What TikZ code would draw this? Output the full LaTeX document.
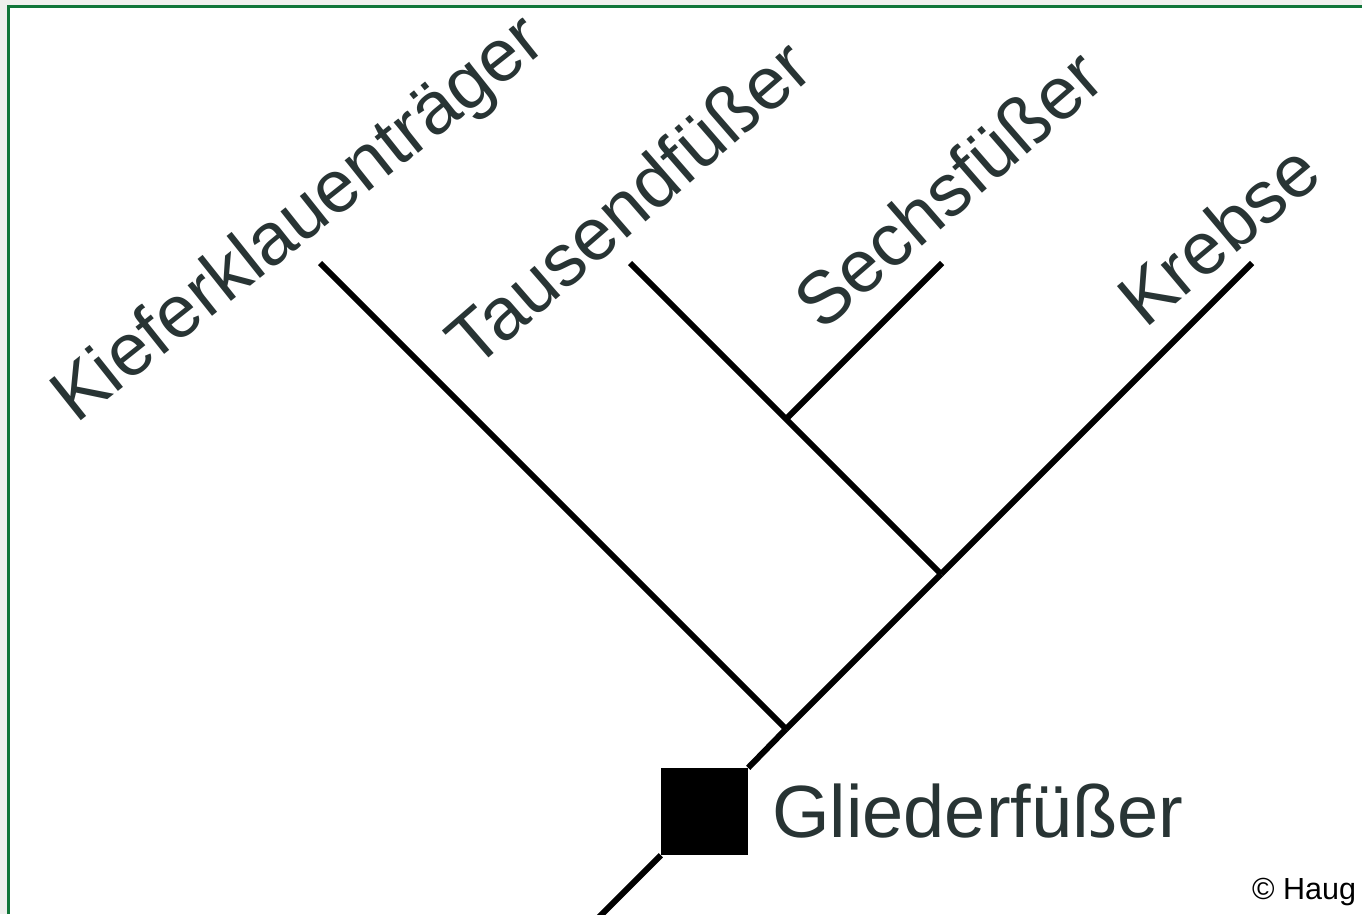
\documentclass[tikz,border=0pt]{standalone}
\usepackage{fontspec}
\setmainfont{Liberation Sans}
\definecolor{bggray}{RGB}{240,240,238}
\definecolor{framegreen}{RGB}{18,118,58}
\definecolor{labelcol}{RGB}{40,52,52}
\begin{document}
\begin{tikzpicture}[x=1pt,y=-1pt,
  branch/.style={line width=6pt,black},
  taxon/.style={inner sep=0pt,anchor=base west,text=labelcol,font=\fontsize{74}{88}\selectfont},
  groupbox/.style={fill=black,draw=none,minimum width=87pt,minimum height=87pt,inner sep=0pt},
  grouplabel/.style={inner sep=0pt,anchor=base west,text=labelcol,font=\fontsize{74}{88}\selectfont},
  credit/.style={inner sep=0pt,anchor=base west,text=black,font=\fontsize{30.5}{36}\selectfont}]
\useasboundingbox (0,0) rectangle (1362,914);
\fill[bggray] (0,0) rectangle (1362,914);
\fill[white] (8.3,6) rectangle (1362,914);
\draw[framegreen,line width=2.6pt] (8.3,914) -- (8.3,6.2) -- (1362,6.2);
% tree points
\coordinate (root) at (598,918);
\coordinate (A) at (786,729);
\coordinate (B) at (941,574);
\coordinate (C) at (786,419);
\coordinate (kief) at (320,263);
\coordinate (taus) at (630,263);
\coordinate (sechs) at (942,263);
\coordinate (kreb) at (1252,263);
\node[groupbox] (sq) at (704.5,811.5) {};
% connectors
\draw[branch] (root) -- (sq.south west);
\draw[branch] (sq.north east) -- (A);
\draw[branch] (kief) -- (A);
\draw[branch] (A) -- (B);
\draw[branch] (taus) -- (B);
\draw[branch] (B) -- (kreb);
\draw[branch] (C) -- (sechs);
% labels
\node[taxon,rotate=38.5] (lkief) at (76,425) {Kieferklauenträger};
\node[taxon,rotate=41] (ltaus) at (474,371) {Tausendfüßer};
\node[taxon,rotate=41] (lsechs) at (822,333) {Sechsfüßer};
\node[taxon,rotate=40] (lkreb) at (1145,330) {Krebse};
\node[grouplabel] (lglied) at (772,837) {Gliederfüßer};
\node[credit] (lcred) at (1252,899) {© Haug};
\end{tikzpicture}
\end{document}
